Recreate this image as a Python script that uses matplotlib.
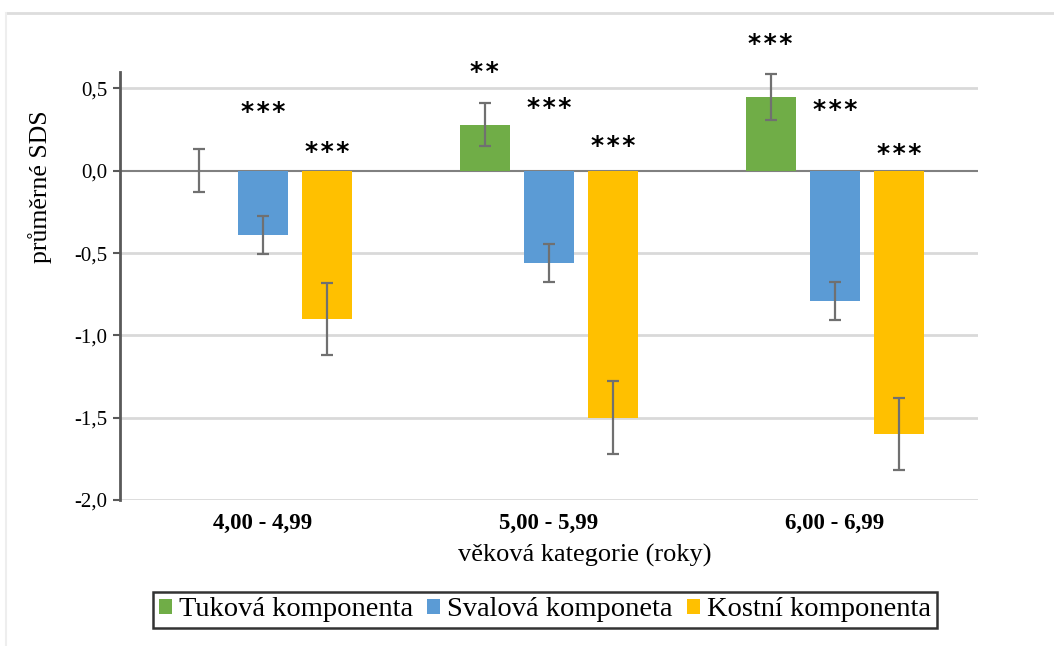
import numpy as np
import matplotlib.pyplot as plt
from matplotlib.patches import Patch
from matplotlib.lines import Line2D

# data
categories = ['4,00 - 4,99', '5,00 - 5,99', '6,00 - 6,99']
series = ['Tuková komponenta', 'Svalová komponeta', 'Kostní komponenta']
colors = ['#70AD47', '#5B9BD5', '#FFC000']
means = [
    [0.00, 0.28, 0.45],      # tuk
    [-0.39, -0.56, -0.79],   # svaly
    [-0.90, -1.50, -1.60],   # kosti
]
errors = [
    [0.13, 0.13, 0.14],
    [0.115, 0.115, 0.115],
    [0.22, 0.22, 0.22],
]
stars = [
    ['', '**', '***'],
    ['***', '***', '***'],
    ['***', '***', '***'],
]
star_y = [
    [None, 0.60, 0.77],
    [0.36, 0.38, 0.37],
    [0.115, 0.15, 0.10],
]

plt.rcParams['font.family'] = ['Liberation Serif', 'DejaVu Serif']

fig = plt.figure(figsize=(10.54, 6.46), dpi=100)
ax = fig.add_axes([120 / 1054, 1 - 500 / 646, 858 / 1054, 428 / 646])

x = np.arange(len(categories))
offsets = [-0.225, 0.0, 0.225]
width = 0.175

for i in range(3):
    ax.bar(x + offsets[i], means[i], width, color=colors[i], zorder=2)
    ax.errorbar(x + offsets[i], means[i], yerr=errors[i], fmt='none',
                ecolor='#707070', elinewidth=1.6, capsize=4.5, capthick=1.6, zorder=3)
    for j in range(3):
        if stars[i][j]:
            # spread the asterisks a little with hair spaces
            ax.text(x[j] + offsets[i], star_y[i][j], '\u200a'.join(stars[i][j]),
                    ha='center', va='center', fontsize=18, fontweight='bold',
                    family='DejaVu Sans', clip_on=False, zorder=4)

ax.set_xlim(-0.5, 2.5)
ax.set_ylim(-2.0, 0.6)
ax.set_yticks([0.5, 0.0, -0.5, -1.0, -1.5, -2.0])
ax.set_yticklabels(['0,5', '0,0', '-0,5', '-1,0', '-1,5', '-2,0'], fontsize=15)
ax.set_xticks(x)
ax.set_xticklabels(categories, fontsize=16.5, fontweight='bold')
ax.tick_params(axis='x', length=0, pad=9)
ax.tick_params(axis='y', length=5, width=1.5, color='#595959', pad=4)

for v in [0.5, -0.5, -1.0, -1.5, -2.0]:
    ax.axhline(v, color='#D9D9D9', linewidth=2, zorder=0)
ax.axhline(0, color='#808080', linewidth=1.5, zorder=1)

for s in ['top', 'right', 'bottom']:
    ax.spines[s].set_visible(False)
ax.spines['left'].set_color('#595959')
ax.spines['left'].set_linewidth(2)

ax.set_ylabel('průměrné SDS', fontsize=18.5)
ax.yaxis.set_label_coords((40 - 120) / 858, (500 - 187) / 428)
ax.set_xlabel('věková kategorie (roky)', fontsize=19)
ax.xaxis.set_label_coords((585 - 120) / 858, -(555 - 500) / 428)
ax.xaxis.label.set_va('center')
ax.yaxis.label.set_va('center')

handles = [Patch(facecolor=c, edgecolor='none') for c in colors]
leg = fig.legend(handles, series, loc='center', bbox_to_anchor=(545 / 1054, 1 - 610 / 646),
                 ncol=3, fontsize=20.5, frameon=True, fancybox=False, edgecolor='black',
                 handlelength=0.45, handleheight=0.45, handletextpad=0.25, columnspacing=0.5,
                 borderpad=0.2, borderaxespad=0)
leg.get_frame().set_linewidth(1.8)

# thin outer frame lines
fig.add_artist(Line2D([6 / 1054, 1], [1 - 13 / 646, 1 - 13 / 646], color='#DDDDDD', linewidth=2))
fig.add_artist(Line2D([6 / 1054, 6 / 1054], [0, 1 - 13 / 646], color='#EEEEEE', linewidth=1.5))

fig.savefig('out.png', dpi=100)
